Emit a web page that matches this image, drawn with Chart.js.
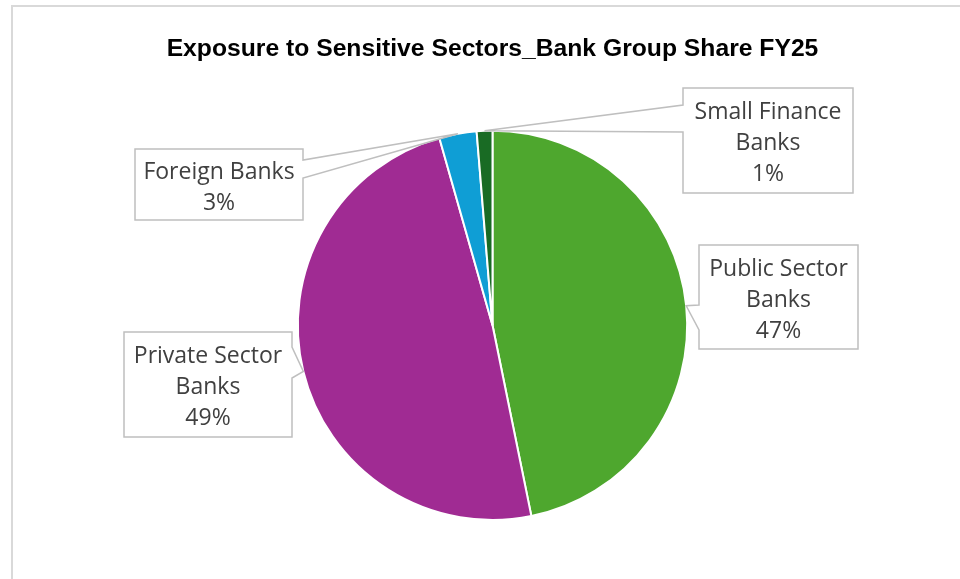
<!DOCTYPE html>
<html>
<head>
<meta charset="utf-8">
<style>
  html, body { margin: 0; padding: 0; background: #ffffff; }
  #wrap { position: relative; width: 960px; height: 579px; overflow: hidden; }
  canvas { display: block; }
</style>
<script src="https://cdn.jsdelivr.net/npm/chart.js@4.4.1/dist/chart.umd.min.js"></script>
</head>
<body>
<div id="wrap"><canvas id="c" width="960" height="579"></canvas></div>
<script>
// ---- data ----
const chartTitle = 'Exposure to Sensitive Sectors_Bank Group Share FY25';
const categories = ['Public Sector Banks', 'Private Sector Banks', 'Foreign Banks', 'Small Finance Banks'];
const labelLines = [['Public Sector', 'Banks'], ['Private Sector', 'Banks'], ['Foreign Banks'], ['Small Finance', 'Banks']];
const shares = [46.8, 48.8, 3.1, 1.3];
const sliceColors = ['#4EA72E', '#A02B93', '#0F9ED5', '#196B24'];

// ---- callout layout (box positions, pointer base on box side) ----
const calloutLayout = [
  { x1: 699, y1: 245, x2: 858, y2: 349, side: 'left',  b1: 305, b2: 330 },
  { x1: 124, y1: 332, x2: 292, y2: 437, side: 'right', b1: 347, b2: 378 },
  { x1: 135, y1: 149, x2: 303, y2: 220, side: 'right', b1: 160, b2: 178 },
  { x1: 683, y1: 88,  x2: 853, y2: 193, side: 'left',  b1: 105, b2: 132 }
];

const frameBorder = {
  id: 'frameBorder',
  beforeDraw(chart) {
    const ctx = chart.ctx;
    ctx.save();
    ctx.strokeStyle = '#d9d9d9';
    ctx.lineWidth = 2;
    ctx.beginPath();
    ctx.moveTo(12, 600);
    ctx.lineTo(12, 6);
    ctx.lineTo(1000, 6);
    ctx.stroke();
    ctx.restore();
  }
};

const callouts = {
  id: 'callouts',
  afterDatasetsDraw(chart) {
    const ctx = chart.ctx;
    const meta = chart.getDatasetMeta(0);
    const data = chart.data.datasets[0].data;
    const total = data.reduce((a, b) => a + b, 0);
    ctx.save();
    meta.data.forEach((arc, i) => {
      const L = calloutLayout[i];
      const p = arc.getProps(['x', 'y', 'startAngle', 'endAngle', 'outerRadius'], true);
      const mid = (p.startAngle + p.endAngle) / 2;
      const tx = p.x + Math.cos(mid) * p.outerRadius;
      const ty = p.y + Math.sin(mid) * p.outerRadius;
      ctx.beginPath();
      ctx.moveTo(L.x1, L.y1);
      ctx.lineTo(L.x2, L.y1);
      if (L.side === 'right') {
        ctx.lineTo(L.x2, L.b1);
        ctx.lineTo(tx, ty);
        ctx.lineTo(L.x2, L.b2);
        ctx.lineTo(L.x2, L.y2);
        ctx.lineTo(L.x1, L.y2);
        ctx.lineTo(L.x1, L.y1);
      } else {
        ctx.lineTo(L.x2, L.y2);
        ctx.lineTo(L.x1, L.y2);
        ctx.lineTo(L.x1, L.b2);
        ctx.lineTo(tx, ty);
        ctx.lineTo(L.x1, L.b1);
        ctx.lineTo(L.x1, L.y1);
      }
      ctx.closePath();
      ctx.fillStyle = '#ffffff';
      ctx.fill();
      ctx.strokeStyle = '#bfbfbf';
      ctx.lineWidth = 1.5;
      ctx.lineJoin = 'miter';
      ctx.stroke();
      const lines = labelLines[i].concat([Math.round(data[i] / total * 100) + '%']);
      const lh = 31;
      const cx = (L.x1 + L.x2) / 2;
      const cy = (L.y1 + L.y2) / 2 + 3;
      ctx.fillStyle = '#404040';
      ctx.font = '23px "Open Sans", Lato, sans-serif';
      ctx.textAlign = 'center';
      ctx.textBaseline = 'middle';
      lines.forEach((t, k) => {
        ctx.fillText(t, cx, cy + (k - (lines.length - 1) / 2) * lh);
      });
    });
    ctx.restore();
  }
};

new Chart(document.getElementById('c'), {
  type: 'pie',
  data: {
    labels: categories,
    datasets: [{
      data: shares,
      backgroundColor: sliceColors,
      borderColor: '#ffffff',
      borderWidth: 2
    }]
  },
  options: {
    responsive: false,
    animation: false,
    layout: { padding: { left: 25, right: 0, top: 18, bottom: 58 } },
    plugins: {
      legend: { display: false },
      tooltip: { enabled: false },
      title: {
        display: true,
        text: chartTitle,
        color: '#000000',
        font: { family: '"Liberation Sans", Arial, sans-serif', size: 24.7, weight: 'bold' },
        padding: { top: 16, bottom: 66 }
      }
    }
  },
  plugins: [frameBorder, callouts]
});
</script>
</body>
</html>
